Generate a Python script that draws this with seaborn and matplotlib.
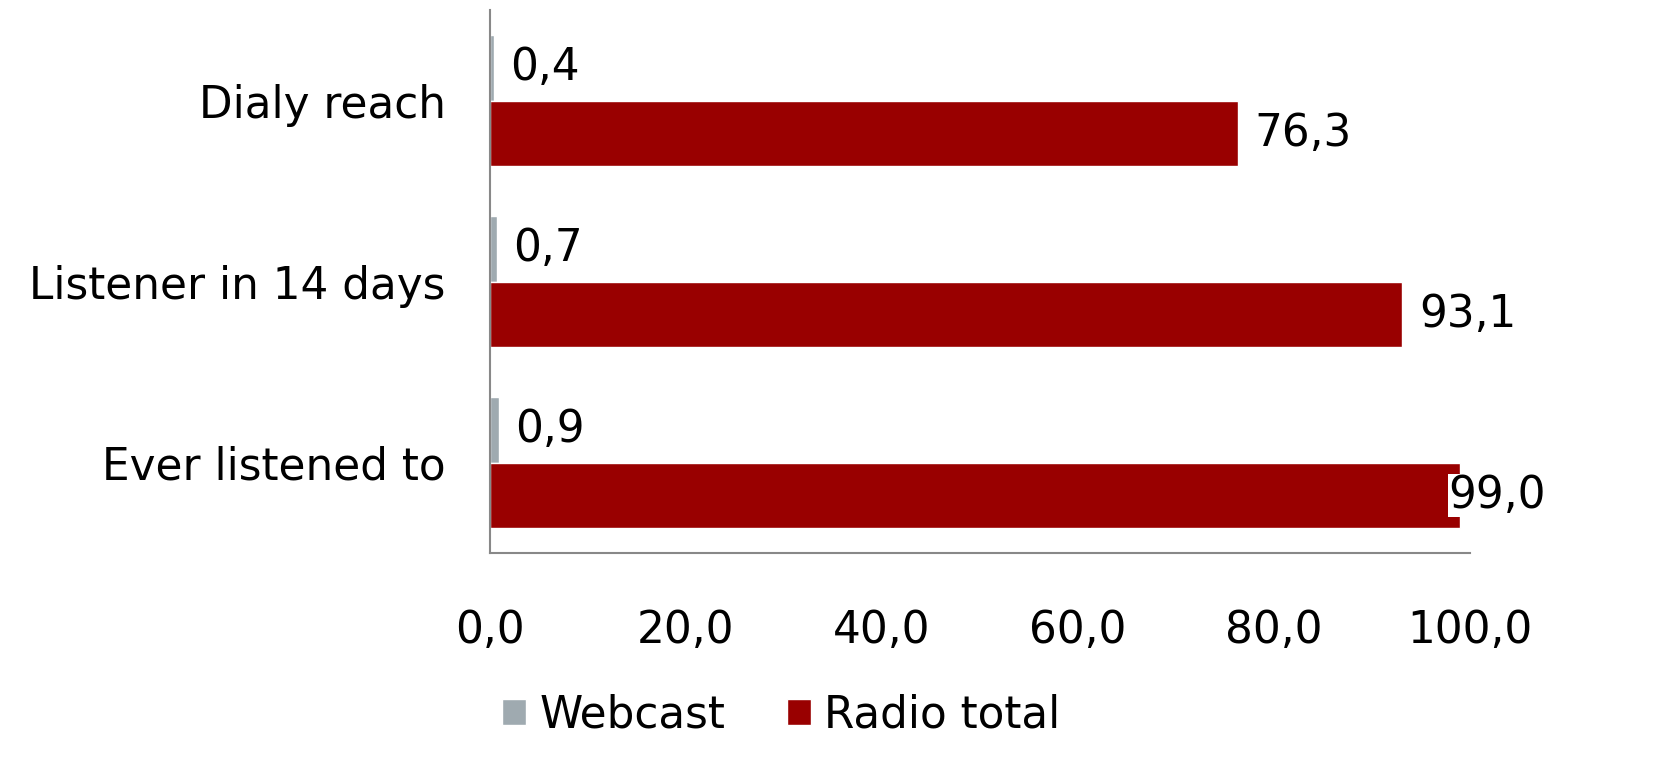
import matplotlib
matplotlib.use("Agg")
import matplotlib.pyplot as plt
import seaborn as sns
import pandas as pd
from matplotlib.patches import Patch

categories = ["Dialy reach", "Listener in 14 days", "Ever listened to"]
series = ["Webcast", "Radio total"]
webcast = [0.4, 0.7, 0.9]
radio_total = [76.3, 93.1, 99.0]
xticks = [0, 20, 40, 60, 80, 100]

colors = {"Webcast": "#9FAAB0", "Radio total": "#990000"}

df = pd.DataFrame({
    "category": categories * 2,
    "series": ["Webcast"] * 3 + ["Radio total"] * 3,
    "value": webcast + radio_total,
})

sns.set_theme(style="white")
plt.rcParams["font.family"] = ["DejaVu Sans"]
plt.rcParams["text.color"] = "black"
plt.rcParams["xtick.color"] = "black"
plt.rcParams["ytick.color"] = "black"

FS = 31.5

fig = plt.figure(figsize=(16.69, 7.8), dpi=100)
ax = fig.add_axes([490 / 1669, 1 - 553 / 780, 980 / 1669, 543 / 780])

sns.barplot(data=df, y="category", x="value", hue="series", order=categories,
            hue_order=series, palette=colors, orient="h", width=0.725,
            ax=ax, legend=False, saturation=1)

ax.set_xlim(0, 100)
ax.set_ylim(2.5, -0.5)
ax.set_xticks(xticks)
ax.set_xticklabels([f"{t:.1f}".replace(".", ",") for t in xticks], fontsize=FS)
ax.tick_params(axis="x", length=0, pad=40, colors="black")
ax.tick_params(axis="y", length=0, pad=32, labelsize=FS, colors="black")
ax.set_xlabel("")
ax.set_ylabel("")
for s in ["top", "right"]:
    ax.spines[s].set_visible(False)
for s in ["left", "bottom"]:
    ax.spines[s].set_color("#888888")
    ax.spines[s].set_linewidth(1.5)

for container in ax.containers:
    for bar in container:
        w = bar.get_width()
        yc = bar.get_y() + bar.get_height() / 2
        label = f"{w:.1f}".replace(".", ",")
        if w > 95:
            ax.text(97.8, yc, label, ha="left", va="center", fontsize=FS,
                    color="black",
                    bbox=dict(facecolor="white", edgecolor="none", pad=0),
                    clip_on=False)
        else:
            ax.text(w + 1.7, yc, label, ha="left", va="center", fontsize=FS,
                    color="black")

handles = [Patch(facecolor=colors[s], label=s) for s in series]
fig.legend(handles=handles, loc="center", bbox_to_anchor=(0.468, 0.083),
           ncol=2, frameon=False, fontsize=FS, handlelength=0.55,
           handleheight=0.55, handletextpad=0.3, columnspacing=1.4)

fig.savefig("out.png", dpi=100)
